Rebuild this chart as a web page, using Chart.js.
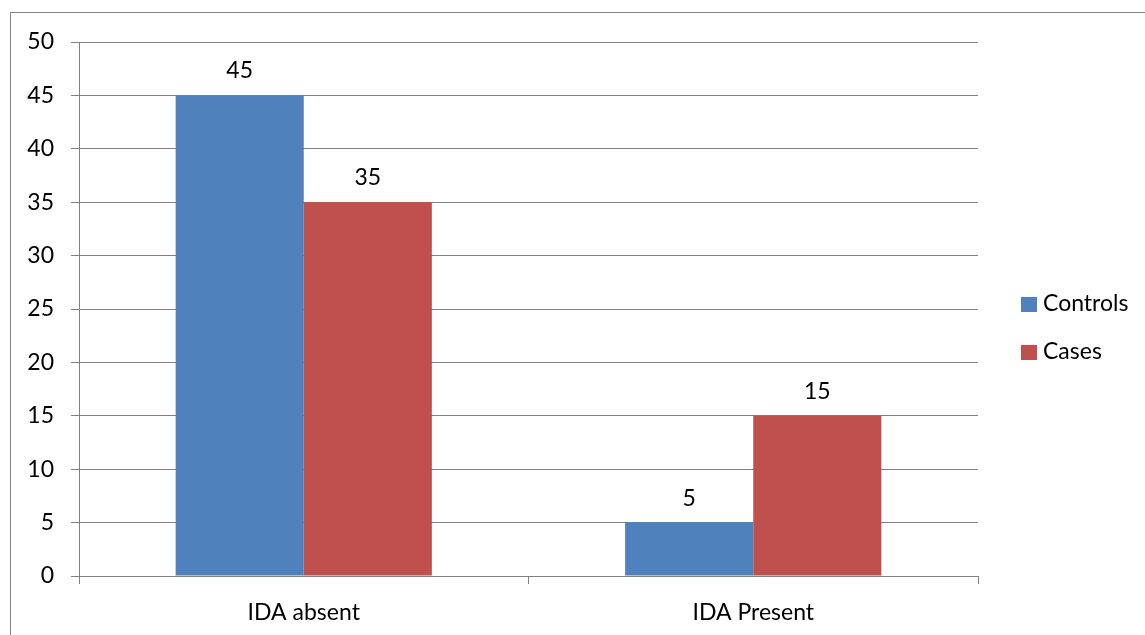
<!DOCTYPE html>
<html>
<head>
<meta charset="utf-8">
<script src="https://cdn.jsdelivr.net/npm/chart.js@4/dist/chart.umd.min.js"></script>
<style>
  html, body { margin: 0; padding: 0; background: #fff; }
  #wrap { position: relative; width: 1145px; height: 635px; overflow: hidden; }
  #frame { position: absolute; left: 10px; top: 12px; right: -5px; bottom: -5px;
           border-left: 1px solid #868686; border-top: 1px solid #868686; }
  canvas { position: absolute; left: 0; top: 0; }
</style>
</head>
<body>
<div id="wrap">
  <div id="frame"></div>
  <canvas id="idaChart" width="1145" height="635"></canvas>
</div>
<script>
const categories = ['IDA absent', 'IDA Present']
const controls = [45, 5]
const cases = [35, 15]
const yTicks = [0, 5, 10, 15, 20, 25, 30, 35, 40, 45, 50]

const FONT = 'Lato, "Open Sans", sans-serif'
const FONT_SIZE = 23
const gridColor = '#808080'

// value labels on top of the bars
const barValues = {
    id: 'barValues',
    afterDatasetsDraw(chart) {
        const ctx = chart.ctx
        ctx.save()
        ctx.font = FONT_SIZE + 'px ' + FONT
        ctx.fillStyle = '#000'
        ctx.textAlign = 'center'
        ctx.textBaseline = 'alphabetic'
        chart.data.datasets.forEach((ds, i) => {
            chart.getDatasetMeta(i).data.forEach((bar, j) => {
                ctx.fillText(ds.data[j], bar.x, bar.y - 17)
            })
        })
        ctx.restore()
    }
}

// legend on the right, drawn from the datasets
const sideLegend = {
    id: 'sideLegend',
    afterDraw(chart) {
        const ctx = chart.ctx
        ctx.save()
        ctx.font = FONT_SIZE + 'px ' + FONT
        ctx.textBaseline = 'middle'
        chart.data.datasets.forEach((ds, i) => {
            const y = 304 + i * 48
            ctx.fillStyle = ds.backgroundColor
            ctx.fillRect(1021, y - 7, 16, 15)
            ctx.fillStyle = '#000'
            ctx.fillText(ds.label, 1043, y)
        })
        ctx.restore()
    }
}

new Chart(document.getElementById('idaChart'), {
    type: 'bar',
    data: {
        labels: categories,
        datasets: [
            { label: 'Controls', data: controls, backgroundColor: '#4F81BD' },
            { label: 'Cases', data: cases, backgroundColor: '#C0504D' }
        ]
    },
    options: {
        responsive: false,
        animation: false,
        devicePixelRatio: 1,
        layout: { padding: { top: 42, right: 167, left: 0, bottom: 0 } },
        plugins: { legend: { display: false }, tooltip: { enabled: false } },
        datasets: { bar: { barPercentage: 1, categoryPercentage: 0.57 } },
        scales: {
            x: {
                grid: { drawOnChartArea: false, drawTicks: true, tickLength: 8, color: gridColor, offset: true },
                border: { color: gridColor, width: 1 },
                ticks: { color: '#000', font: { family: FONT, size: FONT_SIZE }, padding: 15 },
                afterFit(scale) { scale.height = 59 }
            },
            y: {
                min: 0,
                max: 50,
                afterBuildTicks(scale) { scale.ticks = yTicks.map(v => ({ value: v })) },
                grid: { color: gridColor, tickLength: 8, lineWidth: 1 },
                border: { color: gridColor, width: 1 },
                ticks: { color: '#000', font: { family: FONT, size: FONT_SIZE }, padding: 17 },
                afterFit(scale) { scale.width = 79 }
            }
        }
    },
    plugins: [barValues, sideLegend]
})
</script>
</body>
</html>
